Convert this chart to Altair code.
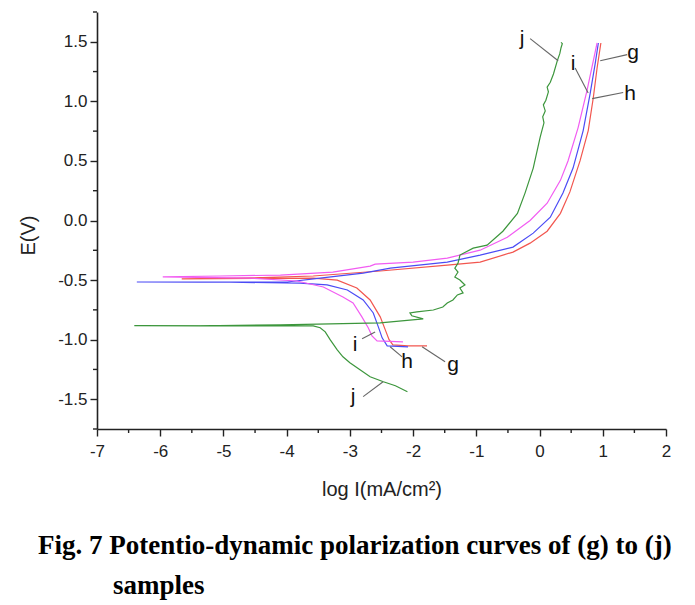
import altair as alt
import pandas as pd

# ---- curve data (log I in mA/cm2, E in V), traced along each sweep ----
g_x = [-1.78, -2.08, -2.32, -2.38, -2.44, -2.52, -2.68, -2.89, -3.20, -3.58, -4.50, -5.66,
       -5.00, -4.58, -3.58, -2.52, -1.46, -0.94, -0.42, -0.15, 0.12, 0.33, 0.48, 0.64, 0.77, 0.85, 0.91, 0.97]
g_y = [-1.052, -1.052, -1.044, -1.00, -0.918, -0.809, -0.667, -0.567, -0.500, -0.483, -0.487, -0.490,
       -0.486, -0.482, -0.466, -0.424, -0.374, -0.349, -0.265, -0.19, -0.09, 0.06, 0.24, 0.50, 0.755, 1.03, 1.28, 1.49]

h_x = [-2.08, -2.41, -2.49, -2.55, -2.63, -2.79, -3.04, -3.36, -3.79, -4.90, -6.37,
       -5.37, -3.99, -3.47, -2.79, -2.36, -1.46, -0.94, -0.42, -0.10, 0.17, 0.37, 0.53, 0.69, 0.80, 0.88, 0.93]
h_y = [-1.06, -1.052, -0.985, -0.893, -0.776, -0.667, -0.583, -0.541, -0.525, -0.518, -0.516,
       -0.517, -0.516, -0.483, -0.441, -0.40, -0.349, -0.29, -0.223, -0.106, 0.028, 0.23, 0.44, 0.755, 1.065, 1.316, 1.49]

i_x = [-2.16, -2.57, -2.65, -2.71, -2.81, -2.95, -3.11, -3.42, -3.84, -4.58, -5.96,
       -5.05, -4.10, -3.27, -2.68, -2.60, -2.00, -1.46, -0.94, -0.51, -0.15, 0.12, 0.33, 0.45, 0.61, 0.75, 0.85, 0.91]
i_y = [-1.019, -1.01, -0.968, -0.90, -0.809, -0.692, -0.642, -0.558, -0.508, -0.483, -0.474,
       -0.466, -0.458, -0.433, -0.383, -0.366, -0.349, -0.316, -0.249, -0.14, 0.0, 0.145, 0.337, 0.50, 0.78, 1.09, 1.34, 1.49]

j_x = [-2.09, -2.28, -2.47, -2.68, -2.84, -3.00, -3.11, -3.20, -3.31, -3.39, -3.47, -3.58, -4.58, -6.41,
       -5.37, -4.10, -2.52, -1.84, -2.02, -2.05, -1.94, -1.68, -1.53, -1.46, -1.37, -1.30, -1.21, -1.26,
       -1.18, -1.26, -1.34, -1.29, -1.34, -1.29, -1.27, -1.26, -1.05, -0.83, -0.58, -0.35, -0.23, -0.10,
       0.01, 0.04, 0.07, 0.05, 0.09, 0.06, 0.10, 0.14, 0.12, 0.17, 0.22, 0.28, 0.32, 0.34, 0.36, 0.34]
j_y = [-1.437, -1.387, -1.353, -1.311, -1.253, -1.194, -1.144, -1.085, -1.002, -0.935, -0.90, -0.885, -0.885, -0.882,
       -0.884, -0.876, -0.86, -0.826, -0.80, -0.776, -0.767, -0.751, -0.726, -0.692, -0.667, -0.625, -0.608, -0.567,
       -0.541, -0.50, -0.474, -0.433, -0.40, -0.358, -0.316, -0.29, -0.232, -0.207, -0.09, 0.06, 0.23, 0.44,
       0.70, 0.76, 0.82, 0.87, 0.92, 0.97, 1.01, 1.08, 1.12, 1.16, 1.23, 1.34, 1.40, 1.45, 1.484, 1.495]

curve_names = ["g", "h", "i", "j"]
curve_colors = ["#f2564f", "#4b4bf5", "#f25cf2", "#3c963c"]

# ---- annotation labels and leader lines ----
label_text = ["j", "i", "g", "h", "i", "h", "g", "j"]
label_x = [-0.275, 0.532, 1.481, 1.434, -2.918, -2.095, -1.367, -2.949]
label_y = [1.526, 1.316, 1.408, 1.065, -1.044, -1.186, -1.211, -1.478]
lead_x1 = [-0.149, 0.563, 0.959, 0.832, -2.807, -2.364, -1.858, -2.790]
lead_y1 = [1.526, 1.280, 1.341, 1.023, -0.993, -1.060, -1.060, -1.478]
lead_x2 = [0.294, 0.769, 1.386, 1.323, -2.601, -2.174, -1.494, -2.475]
lead_y2 = [1.341, 1.070, 1.392, 1.074, -0.935, -1.144, -1.186, -1.353]

# ---- axes ----
x_domain = [-7, 2]
y_domain = [-1.75, 1.75]
x_major = [-7, -6, -5, -4, -3, -2, -1, 0, 1, 2]
x_minor = [-6.5, -5.5, -4.5, -3.5, -2.5, -1.5, -0.5, 0.5, 1.5]
y_major = [-1.5, -1.0, -0.5, 0.0, 0.5, 1.0, 1.5]
y_minor = [-1.75, -1.25, -0.75, -0.25, 0.25, 0.75, 1.25, 1.75]
x_title = "log I(mA/cm²)"
y_title = "E(V)"
caption_1 = "Fig. 7 Potentio-dynamic polarization curves of (g) to (j)"
caption_2 = "samples"

rows = []
for name, xs, ys in [("g", g_x, g_y), ("h", h_x, h_y), ("i", i_x, i_y), ("j", j_x, j_y)]:
    for k, (a, b) in enumerate(zip(xs, ys)):
        rows.append({"curve": name, "seq": k, "logI": a, "E": b})
df = pd.DataFrame(rows)

lab = pd.DataFrame({"t": label_text, "x": label_x, "y": label_y,
                    "x1": lead_x1, "y1": lead_y1, "x2": lead_x2, "y2": lead_y2})

W, H = 569, 417
FONT = "Liberation Sans"
AX = "#222"

xscale = alt.Scale(domain=x_domain, nice=False, zero=False)
yscale = alt.Scale(domain=y_domain, nice=False, zero=False)

x_axis = alt.Axis(
    values=x_major, title=x_title, grid=False, tickSize=7,
    labelExpr="(datum.value < 0 ? '-' : '') + format(abs(datum.value), 'd')",
    labelFlush=False, labelOverlap=False, labelBound=False,
    labelFont=FONT, labelFontSize=17, labelColor=AX, labelPadding=7,
    titleFont=FONT, titleFontSize=20, titleFontWeight="normal", titleColor=AX, titlePadding=20,
    domainColor=AX, domainWidth=1.6, tickColor=AX, tickWidth=1.4,
)
y_axis = alt.Axis(
    values=y_major, title=y_title, grid=False, tickSize=7,
    labelExpr="(datum.value < 0 ? '-' : '') + format(abs(datum.value), '.1f')",
    labelFlush=False, labelOverlap=False, labelBound=False,
    labelFont=FONT, labelFontSize=17, labelColor=AX, labelPadding=3,
    titleFont=FONT, titleFontSize=20, titleFontWeight="normal", titleColor=AX,
    titleX=-69, titleY=223, titleAngle=270, titleBaseline="middle", titleAlign="center",
    domainColor=AX, domainWidth=1.6, tickColor=AX, tickWidth=1.4,
)

lines = alt.Chart(df).mark_line(strokeWidth=1.2).encode(
    x=alt.X("logI:Q", scale=xscale, axis=x_axis),
    y=alt.Y("E:Q", scale=yscale, axis=y_axis),
    color=alt.Color("curve:N", scale=alt.Scale(domain=curve_names, range=curve_colors), legend=None),
    order=alt.Order("seq:Q"),
)

# minor ticks, placed through the shared scales
xmin_df = pd.DataFrame({"v": x_minor})
ymin_df = pd.DataFrame({"v": y_minor})
x_minor_ticks = alt.Chart(xmin_df).mark_rule(color=AX, strokeWidth=1.4).encode(
    x=alt.X("v:Q", scale=xscale), y=alt.value(H), y2=alt.value(H + 4))
y_minor_ticks = alt.Chart(ymin_df).mark_rule(color=AX, strokeWidth=1.4).encode(
    y=alt.Y("v:Q", scale=yscale), x=alt.value(0), x2=alt.value(-4))

leaders = alt.Chart(lab).mark_rule(color="#666", strokeWidth=1.1).encode(
    x=alt.X("x1:Q", scale=xscale), y=alt.Y("y1:Q", scale=yscale),
    x2="x2:Q", y2="y2:Q",
)

labels = alt.Chart(lab).mark_text(font=FONT, fontSize=21, color="#111", baseline="middle", align="center").encode(
    x=alt.X("x:Q", scale=xscale), y=alt.Y("y:Q", scale=yscale), text="t:N",
)

cap_df = pd.DataFrame({"line1": [caption_1], "line2": [caption_2]})
cap1 = alt.Chart(cap_df).mark_text(font="Liberation Serif", fontWeight="bold", fontSize=27,
                                   align="left", baseline="alphabetic", color="#000").encode(
    x=alt.value(-59), y=alt.value(542), text="line1:N")
cap2 = alt.Chart(cap_df).mark_text(font="Liberation Serif", fontWeight="bold", fontSize=27,
                                   align="left", baseline="alphabetic", color="#000").encode(
    x=alt.value(16), y=alt.value(582), text="line2:N")

chart = alt.layer(lines, x_minor_ticks, y_minor_ticks, leaders, labels, cap1, cap2).properties(
    width=W, height=H,
    background="white",
    autosize=alt.AutoSizeParams(type="none"),
    padding={"left": 89, "top": 4, "right": 20, "bottom": 171},
).configure_view(stroke=None)

chart.save("out.html", embed_options={"renderer": "svg", "actions": False})
